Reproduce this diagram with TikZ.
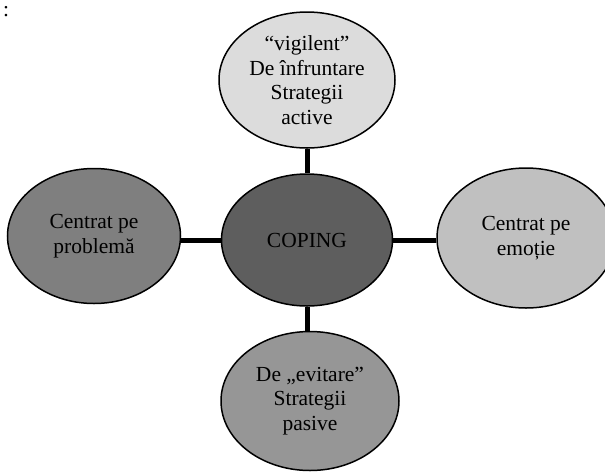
\documentclass[tikz,border=0pt]{standalone}
\usepackage{fontspec}
\setmainfont{Liberation Serif}
\usetikzlibrary{shapes.geometric}
\definecolor{palegray}{HTML}{DCDCDC}
\definecolor{darkgray}{HTML}{5E5E5E}
\definecolor{midgray}{HTML}{7F7F7F}
\definecolor{softgray}{HTML}{C0C0C0}
\definecolor{stonegray}{HTML}{969696}
\begin{document}
\begin{tikzpicture}
[  
    x=1pt, y=-1pt,
    bubble/.style={draw, ellipse, line width=1.5pt, inner sep=0pt, align=center,
        font=\fontsize{21.5}{24.5}\selectfont},
    link/.style={line width=5pt}
]
    \useasboundingbox (0,0) rectangle (605,472);
    \node [anchor=base west, inner sep=0pt, font=\fontsize{21.5}{24.5}\selectfont] (colon) at (3,16) {:};

    \node [bubble, fill=darkgray, minimum width=171pt, minimum height=132pt] (coping) at (307,240) {COPING};
    \node [bubble, fill=palegray, minimum width=176pt, minimum height=136pt] (active) at (307,80)
        {“vigilent”\\De înfruntare\\Strategii\\active};
    \node [bubble, fill=midgray, minimum width=173pt, minimum height=135pt] (problem) at (94,236)
        {Centrat pe\\problemă};
    \node [bubble, fill=softgray, minimum width=178pt, minimum height=140pt] (emotion) at (526,238)
        {Centrat pe\\emoție};
    \node [bubble, fill=stonegray, minimum width=178pt, minimum height=139pt] (passive) at (310,401)
        {De „evitare”\\Strategii\\pasive};

    \draw [link] (coping.north) -- (active.south -| coping.north);
    \draw [link] (coping.west) -- (problem.east |- coping.west);
    \draw [link] (coping.east) -- (emotion.west |- coping.east);
    \draw [link] (coping.south) -- (passive.north -| coping.south);
\end{tikzpicture}
\end{document}
